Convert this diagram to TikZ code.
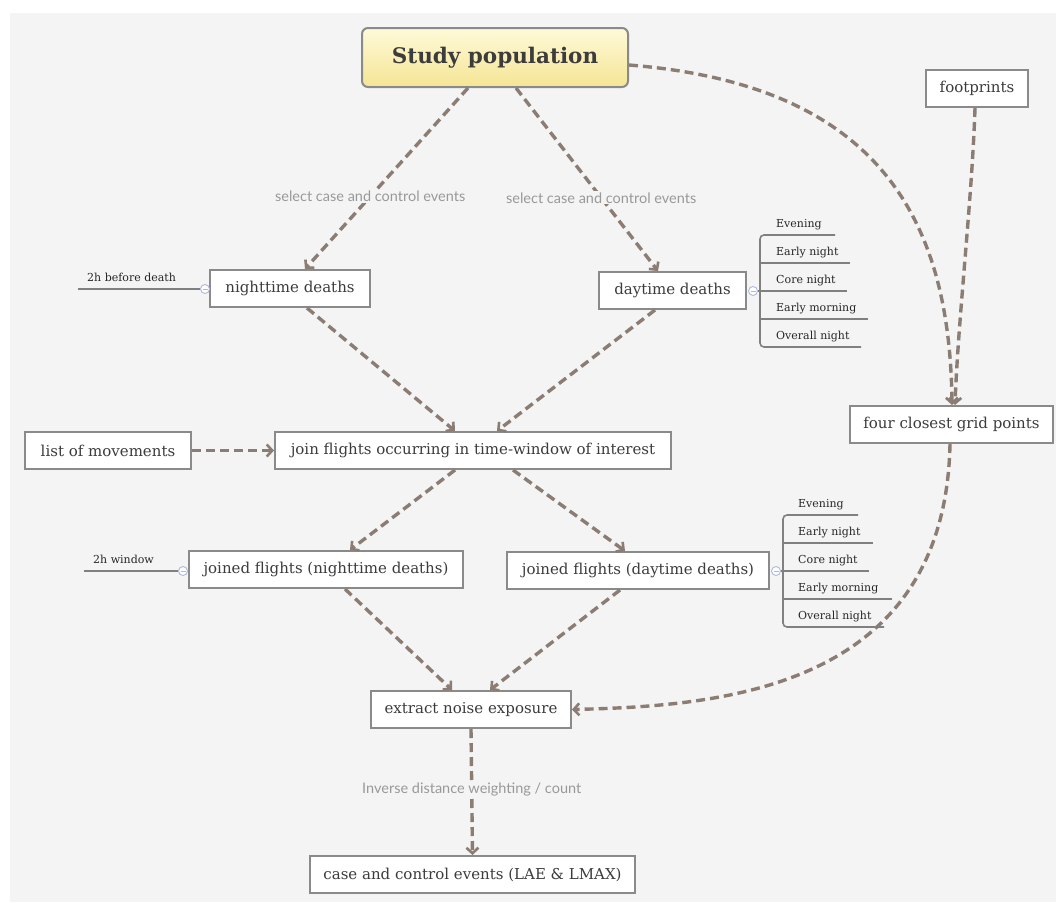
\documentclass[tikz,border=0pt]{standalone}
\usepackage{fontspec}
\setmainfont{DejaVu Serif}
\newfontfamily\edgefont{Lato}
\usepackage{tikz}
\usetikzlibrary{arrows.meta, calc}
\definecolor{bg}{HTML}{F4F4F4}
\definecolor{flowc}{HTML}{8C7D74}
\definecolor{boxline}{HTML}{8A8A8A}
\definecolor{boxtext}{HTML}{3C3C3C}
\definecolor{pin}{HTML}{AEB8E2}
\definecolor{poptop}{HTML}{FEFAD9}
\definecolor{popbot}{HTML}{F5E594}
\tikzset{
  box/.style={draw=boxline, line width=2, fill=white, minimum height=37,
    inner sep=0, text=boxtext, font=\fontsize{15}{18}\selectfont},
  flow/.style={draw=flowc, line width=3.4, dash pattern=on 9 off 5,
    >={Straight Barb[length=5.5, width=12, line width=2.6]}, ->},
  flowtext/.style={fill=bg, inner sep=1, text=gray!80, font=\edgefont\fontsize{14.5}{17}\selectfont},
  subline/.style={draw=gray, line width=1.6},
  subtext/.style={anchor=south west, inner sep=1, text=black!85, font=\fontsize{11}{13}\selectfont},
  pinc/.style={draw=pin, fill=white, line width=0.9, circle, inner sep=0, minimum size=9,
    path picture={\draw[pin, line width=0.9] ([xshift=-2.5]path picture bounding box.center) -- ([xshift=2.5]path picture bounding box.center);}}
}
\begin{document}
\begin{tikzpicture}[x=1pt, y=-1pt]
\useasboundingbox (0,0) rectangle (1056,902);
\fill[white] (0,0) rectangle (1056,902);
\fill[bg] (10,13) rectangle (1056,902);

% boxes
\node[draw=boxline, line width=2, rounded corners=6, top color=poptop, bottom color=popbot,
  minimum width=266, minimum height=59, text=boxtext, font=\bfseries\fontsize{21.5}{25}\selectfont] (pop) at (495,57.5) {Study population};
\node[box, minimum width=102] (foot) at (977,88.5) {footprints};
\node[box, minimum width=160] (night) at (290,288.5) {nighttime deaths};
\node[box, minimum width=147] (day) at (672.5,290.5) {daytime deaths};
\node[box, minimum width=396] (join) at (473,450.5) {join flights occurring in time-window of interest};
\node[box, minimum width=166] (moves) at (108,450.5) {list of movements};
\node[box, minimum width=203] (grid) at (951.5,424.5) {four closest grid points};
\node[box, minimum width=274] (jnight) at (326,569.5) {joined flights (nighttime deaths)};
\node[box, minimum width=262] (jday) at (638,570.5) {joined flights (daytime deaths)};
\node[box, minimum width=200] (noise) at (471,709.5) {extract noise exposure};
\node[box, minimum width=325] (events) at (472.5,874.5) {case and control events (LAE \& LMAX)};

% flows
\draw[flow] ($(pop.south)+(-27,0)$) -- node[flowtext, pos=0.6] {select case and control events} ($(night.north)+(15,0)$);
\draw[flow] ($(pop.south)+(21,0)$) -- node[flowtext, pos=0.6] {select case and control events} ($(day.north)+(-14.5,0)$);
\draw[flow] ($(pop.east)+(0,7.5)$) .. controls (880,85) and (950,220) .. ($(grid.north)+(0.5,0)$);
\draw[flow] ($(foot.south)+(-2,0)$) .. controls (972,200) and (958,320) .. ($(grid.north)+(3.5,0)$);
\draw[flow] ($(night.south)+(17,0)$) -- ($(join.north)+(-18,0)$);
\draw[flow] ($(day.south)+(-17.5,0)$) -- ($(join.north)+(24,0)$);
\draw[flow] (moves.east) -- (join.west);
\draw[flow] ($(join.south)+(-18,0)$) -- ($(jnight.north)+(24,0)$);
\draw[flow] ($(join.south)+(40,0)$) -- ($(jday.north)+(-13,0)$);
\draw[flow] ($(jnight.south)+(19,0)$) -- ($(noise.north)+(-19,0)$);
\draw[flow] ($(jday.south)+(-18,0)$) -- ($(noise.north)+(19,0)$);
\draw[flow] ($(grid.south)+(-1.5,0)$) .. controls (945,690) and (720,706) .. (noise.east);
\draw[flow] (noise.south) -- node[flowtext, pos=0.48] {Inverse distance weighting / count} (events.north);

% 2h before death
\coordinate (nightend) at (78,289);
\node[pinc] (nightpin) at (205,289) {};
\draw[subline] (nightend) -- (nightpin.west);
\node[subtext] (nightnote) at (86,283) {2h before death};

% 2h window
\coordinate (jnightend) at (84,571);
\node[pinc] (jnightpin) at (183,571) {};
\draw[subline] (jnightend) -- (jnightpin.west);
\node[subtext] (jnightnote) at (92,565) {2h window};

% daytime deaths periods
\node[pinc] (daypin) at (753,291) {};
\draw[subline] (daypin.east) -- (760,291);
\draw[subline, rounded corners=4] (835,235) -- (760,235) -- (760,347) -- (861,347);
\draw[subline] (760,263) -- (850,263);
\draw[subline] (760,291) -- (847,291);
\draw[subline] (760,319) -- (868,319);
\node[subtext] (dayeve) at (775,231) {Evening};
\node[subtext] (dayearly) at (775,259) {Early night};
\node[subtext] (daycore) at (775,287) {Core night};
\node[subtext] (daymorn) at (775,315) {Early morning};
\node[subtext] (dayall) at (775,343) {Overall night};

% joined flights (daytime deaths) periods
\node[pinc] (jdaypin) at (776,571) {};
\draw[subline] (jdaypin.east) -- (783,571);
\draw[subline, rounded corners=4] (858,515) -- (783,515) -- (783,627) -- (884,627);
\draw[subline] (783,543) -- (873,543);
\draw[subline] (783,571) -- (869,571);
\draw[subline] (783,599) -- (892,599);
\node[subtext] (jdayeve) at (797,511) {Evening};
\node[subtext] (jdayearly) at (797,539) {Early night};
\node[subtext] (jdaycore) at (797,567) {Core night};
\node[subtext] (jdaymorn) at (797,595) {Early morning};
\node[subtext] (jdayall) at (797,623) {Overall night};
\end{tikzpicture}
\end{document}
